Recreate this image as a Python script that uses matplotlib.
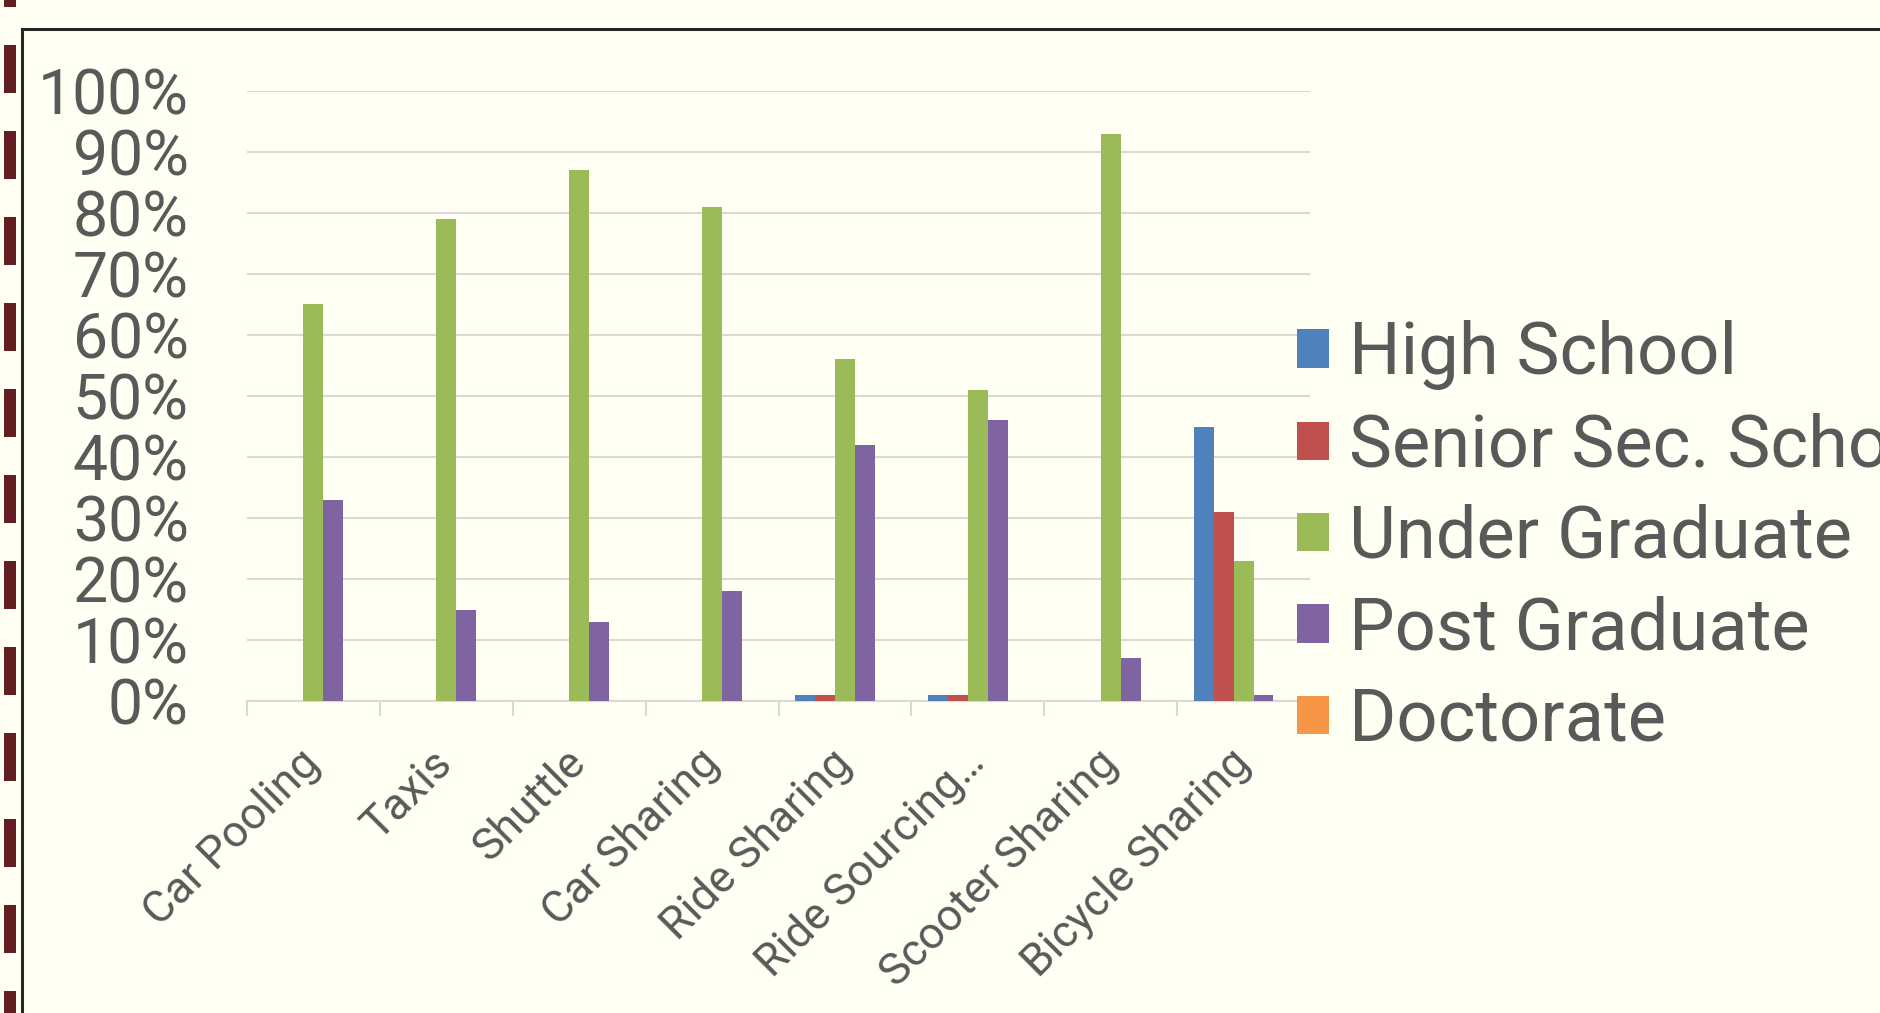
import numpy as np
import matplotlib
matplotlib.use('Agg')
import matplotlib.pyplot as plt
from matplotlib.patches import Rectangle
from matplotlib.lines import Line2D

plt.rcParams['font.family'] = ['Roboto', 'DejaVu Sans']

categories = ['Car Pooling', 'Taxis', 'Shuttle', 'Car Sharing', 'Ride Sharing',
              'Ride Sourcing\u2026', 'Scooter Sharing', 'Bicycle Sharing']
high_school = [0, 0, 0, 0, 1, 1, 0, 45]
senior_sec = [0, 0, 0, 0, 1, 1, 0, 31]
under_grad = [65, 79, 87, 81, 56, 51, 93, 23]
post_grad = [33, 15, 13, 18, 42, 46, 7, 1]
doctorate = [0, 0, 0, 0, 0, 0, 0, 0]
series_names = ['High School', 'Senior Sec. School', 'Under Graduate',
                'Post Graduate', 'Doctorate']
y_ticks = [0, 10, 20, 30, 40, 50, 60, 70, 80, 90, 100]

colors = ['#4F81BD', '#C0504D', '#9BBB59', '#8064A2', '#F79646']
bg = '#FFFFF3'
text_col = '#595959'
grid_col = '#D9D9D9'

W, H = 1881, 1013
fig = plt.figure(figsize=(W / 100, H / 100), dpi=100, facecolor=bg)

# plot area in pixel terms of the reference
ax = fig.add_axes([247 / W, 1 - 701 / H, (1310 - 247) / W, (701 - 91) / H])
ax.set_facecolor(bg)

x = np.arange(len(categories))
w = 0.15
all_series = [high_school, senior_sec, under_grad, post_grad, doctorate]
for i, (name, vals) in enumerate(zip(series_names, all_series)):
    ax.bar(x + (i - 2) * w, vals, w, color=colors[i], label=name, zorder=3)

ax.set_xlim(-0.5, len(categories) - 0.5)
ax.set_ylim(0, 100)
ax.set_yticks(y_ticks)
ax.set_yticklabels([f'{v}%' for v in y_ticks])
ax.yaxis.grid(True, color=grid_col, linewidth=1.5)
ax.set_axisbelow(True)

for s in ['top', 'right', 'left']:
    ax.spines[s].set_visible(False)
ax.spines['bottom'].set_color(grid_col)
ax.spines['bottom'].set_linewidth(1.5)

ax.tick_params(axis='y', length=0, pad=42, labelsize=45, labelcolor=text_col)
ax.set_xticks(x)
ax.set_xticklabels(categories, rotation=45, ha='right', va='center',
                   rotation_mode='anchor')
ax.tick_params(axis='x', which='major', length=0, pad=40, labelsize=32,
               labelcolor=text_col)
ax.set_xticks(np.arange(-0.5, len(categories)), minor=True)
ax.tick_params(axis='x', which='minor', length=10.8, width=1.5, color=grid_col)

handles, labels = ax.get_legend_handles_labels()
leg = fig.legend(handles, labels, loc='center left',
                 bbox_to_anchor=(1297 / W, 1 - 538 / H), frameon=False,
                 fontsize=52, handlelength=0.44, handleheight=0.44,
                 handletextpad=0.28, labelspacing=0.31, borderpad=0,
                 borderaxespad=0)
for t in leg.get_texts():
    t.set_color(text_col)

# slide frame
fig.add_artist(Line2D([22 / W, 1], [1 - 29 / H, 1 - 29 / H], color='#262626',
                      linewidth=2.2, transform=fig.transFigure))
fig.add_artist(Line2D([22 / W, 22 / W], [0, 1 - 29 / H], color='#262626',
                      linewidth=2.2, transform=fig.transFigure))

# maroon dashed bar on the left edge
for top in range(-41, H, 86):
    fig.add_artist(Rectangle((4 / W, 1 - (top + 48) / H), 12 / W, 48 / H,
                             facecolor='#621F22', edgecolor='none',
                             transform=fig.transFigure))

fig.savefig('out.png', dpi=100, facecolor=bg)
